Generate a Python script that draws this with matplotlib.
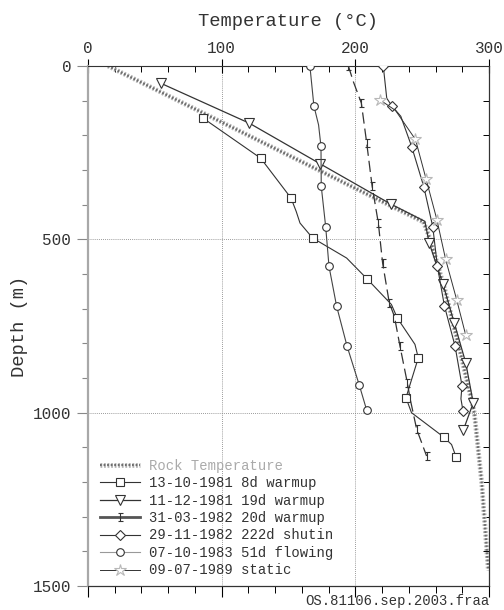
import matplotlib
matplotlib.use("Agg")
import matplotlib.pyplot as plt
from matplotlib.ticker import MultipleLocator
from matplotlib.lines import Line2D
from matplotlib.path import Path
import matplotlib.patheffects as pe

plt.rcParams['font.family'] = ['Liberation Mono', 'DejaVu Sans Mono']

# temperatures (deg C) against depth (m)
rock_T = [15, 251, 256, 267, 280, 289, 294.5, 299.5]
rock_D = [0, 450, 500, 645, 850, 1000, 1200, 1455]

d8_T = [86.3, 129.2, 151.9, 155.8, 158.6, 168.0, 193.5, 208.5, 227.0, 231.4, 244.6,
        247.1, 241.0, 237.9, 242.0, 266.0, 272.0, 275.3]
d8_D = [151, 266, 381, 420, 453, 496, 554, 613, 688, 727, 803,
        842, 918, 957, 1000, 1070, 1092, 1127]
d8_marks = [0, 1, 2, 5, 7, 9, 11, 13, 15, 17]

d19_T = [54.6, 120.7, 173.6, 226.4, 252.0, 255.3, 265.5, 274.0, 282.6, 288.2, 280.8]
d19_D = [50, 165, 282, 398, 448, 511, 628, 741, 856, 972, 1050]
d19_marks = [0, 1, 2, 3, 5, 6, 7, 8, 9, 10]

d20_T = [194.8, 198.5, 204.5, 208.5, 212.5, 217.2, 220.4, 225.4, 229.2, 233.4,
         238.9, 241.0, 245.9, 253.3]
d20_D = [0, 45, 107, 222, 345, 453, 568, 683, 722, 808, 914, 960, 1048, 1125]
d20_marks = [0, 2, 3, 4, 5, 6, 7, 9, 10, 12, 13]

d222_T = [220.9, 223.5, 227.5, 234.0, 242.2, 251.2, 257.9, 261.4, 266.6, 274.6,
          279.8, 279.0, 280.5]
d222_D = [0, 93, 116, 145, 233, 348, 463, 578, 691, 808, 922, 960, 994]
d222_marks = [0, 2, 4, 5, 6, 7, 8, 9, 10, 12]

flow_T = [166.0, 169.0, 172.5, 174.3, 174.5, 177.8, 180.3, 186.0, 193.8, 203.0, 208.5]
flow_D = [0, 115, 170, 232, 347, 463, 578, 693, 808, 921, 993]
flow_marks = [0, 1, 3, 4, 5, 6, 7, 8, 9, 10]

static_T = [218.5, 230.0, 245.0, 253.0, 261.0, 267.5, 275.8, 282.5]
static_D = [98, 128, 212, 327, 443, 557, 674, 775]
static_marks = [0, 2, 3, 4, 5, 6, 7]

labels = ["Rock Temperature", "13-10-1981 8d warmup", "11-12-1981 19d warmup",
          "31-03-1982 20d warmup", "29-11-1982 222d shutin", "07-10-1983 51d flowing",
          "09-07-1989 static"]

dark = '#333333'
ibeam = Path([(-0.6, 1), (0.6, 1), (0, 1), (0, -1), (-0.6, -1), (0.6, -1)],
             [Path.MOVETO, Path.LINETO, Path.MOVETO, Path.LINETO, Path.MOVETO, Path.LINETO])

rock_style = dict(color='#6e6e6e', lw=1.6, linestyle=(0, (0.8, 0.8)),
                  path_effects=[pe.Stroke(linewidth=3.4, foreground='#b4b4b4'), pe.Normal()])
styles = [
    dict(color=dark, lw=0.8, marker='s', ms=5.5, mfc='white', mec=dark, mew=0.8),
    dict(color=dark, lw=0.9, marker='v', ms=7, mfc='white', mec=dark, mew=0.8),
    dict(color=dark, lw=0.9, linestyle=(0, (9, 4)), marker=ibeam, ms=6, mec=dark, mew=0.8),
    dict(color=dark, lw=0.8, marker='D', ms=5.5, mfc='white', mec=dark, mew=0.8),
    dict(color='#444444', lw=0.8, marker='o', ms=5.5, mfc='white', mec=dark, mew=0.8),
    dict(color=dark, lw=0.7, marker='*', ms=9, mfc='white', mec='#b8b8b8', mew=0.8),
]
series = [(d8_T, d8_D, d8_marks), (d19_T, d19_D, d19_marks), (d20_T, d20_D, d20_marks),
          (d222_T, d222_D, d222_marks), (flow_T, flow_D, flow_marks),
          (static_T, static_D, static_marks)]

fig = plt.figure(figsize=(5.04, 6.10), dpi=100)
ax = fig.add_axes([88/504, 1-586/610, (489-88)/504, (586-66)/610])

ax.plot(rock_T, rock_D, **rock_style, zorder=2)
for (t, d, m), st in zip(series, styles):
    ax.plot(t, d, markevery=m, zorder=3, **st)

ax.set_xlim(0, 300)
ax.set_ylim(1500, 0)

# grid only at the inner major ticks
for x in [100, 200]:
    ax.axvline(x, color='#7a7a7a', lw=0.6, linestyle=(0, (1, 1.5)), zorder=1)
for y in [500, 1000]:
    ax.axhline(y, color='#7a7a7a', lw=0.6, linestyle=(0, (1, 1.5)), zorder=1)

ax.xaxis.tick_top()
ax.set_xticks([0, 100, 200, 300])
ax.xaxis.set_minor_locator(MultipleLocator(20))
ax.tick_params(axis='x', which='major', direction='inout', length=10, width=0.8,
               top=True, bottom=False, labeltop=True, labelbottom=False,
               labelsize=11.5, labelcolor=dark, pad=2)
ax.tick_params(axis='x', which='minor', direction='in', length=4, width=0.7,
               top=True, bottom=False)
ax.set_yticks([0, 500, 1000, 1500])
ax.yaxis.set_minor_locator(MultipleLocator(100))
ax.tick_params(axis='y', which='major', direction='out', length=8, width=0.8,
               color='#888888', left=True, right=False, labelsize=11.5,
               labelcolor=dark, pad=4)
ax.tick_params(axis='y', which='minor', direction='out', length=4, width=0.8,
               color='#888888', left=True, right=False)

for s in ['top', 'right', 'bottom']:
    ax.spines[s].set_linewidth(0.8)
    ax.spines[s].set_color(dark)
ax.spines['left'].set_color('#a8a8a8')
ax.spines['left'].set_linewidth(1.6)

sx = ax.secondary_xaxis('bottom')
sx.set_xticks([0, 100, 200, 300])
sx.xaxis.set_minor_locator(MultipleLocator(20))
sx.tick_params(which='major', direction='out', length=8, width=0.8, labelbottom=False)
sx.tick_params(which='minor', direction='out', length=5, width=0.7)
sx.spines['bottom'].set_linewidth(0.8)

sy = ax.secondary_yaxis('right')
sy.yaxis.set_major_locator(MultipleLocator(100))
sy.tick_params(which='major', direction='in', length=4, width=0.7, labelright=False)
sy.spines['right'].set_linewidth(0.8)

# legend with a single marker in the middle of every handle
handles = [Line2D([0, 1], [0, 0], **rock_style)]
for i, st in enumerate(styles):
    st = dict(st)
    if i == 2:
        st['lw'] = 2.0
        st['linestyle'] = '-'
        st['color'] = '#555555'
    if i == 4:
        st['color'] = '#999999'
    handles.append(Line2D([0, 1], [0, 0], **st))
leg = ax.legend(handles, labels, loc='upper left', bbox_to_anchor=(0.03, 0.245),
                frameon=False, fontsize=10, handlelength=2.9, handletextpad=0.6,
                labelspacing=0.25, borderpad=0, borderaxespad=0, numpoints=1)
for i, txt in enumerate(leg.get_texts()):
    txt.set_color('#aaaaaa' if i == 0 else dark)

fig.text(288.5/504, 1-21.7/610, "Temperature (\u00b0C)", ha='center', va='center',
         fontsize=13.5, color=dark)
fig.text(20/504, 1-326/610, "Depth (m)", ha='center', va='center', rotation=90,
         fontsize=13.5, color=dark)
fig.text(489/504, 1-601/610, "OS.81106.sep.2003.fraa", ha='right', va='center',
         fontsize=10, color=dark)

fig.savefig("out.png", dpi=100)
